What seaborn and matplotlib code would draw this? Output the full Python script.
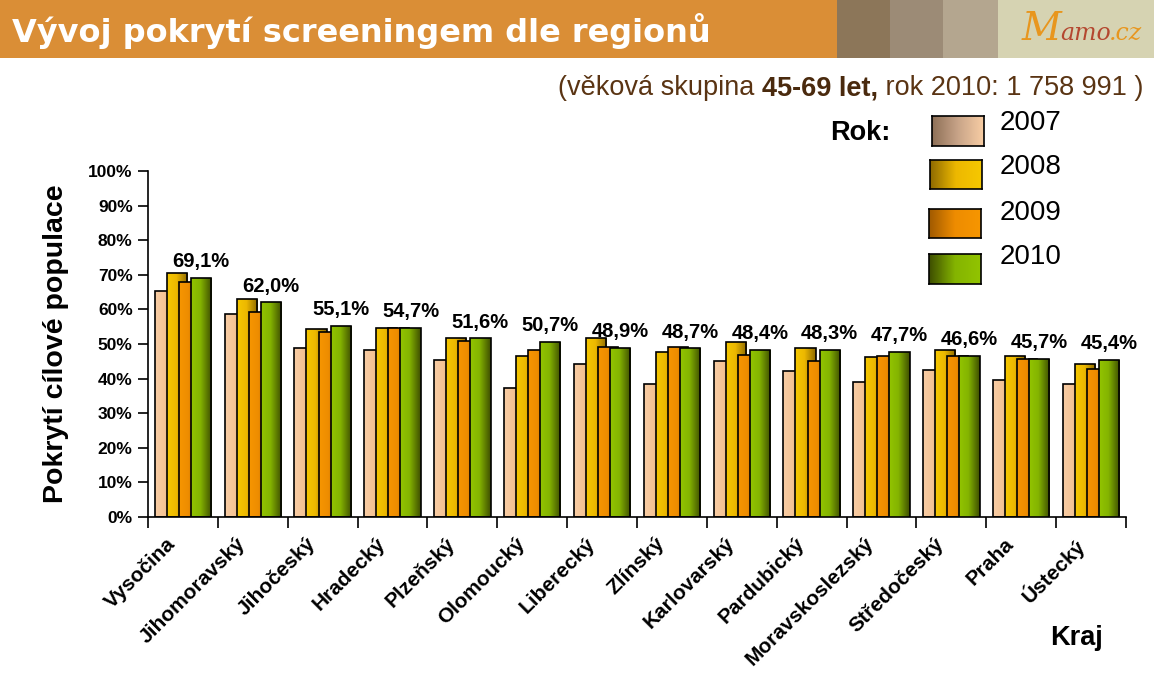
import numpy as np
import pandas as pd
import matplotlib
matplotlib.use("Agg")
import matplotlib.pyplot as plt
import matplotlib.colors as mcolors
import matplotlib.transforms as mtransforms
from matplotlib.patches import Rectangle
import seaborn as sns

regions = ["Vysočina", "Jihomoravský", "Jihočeský", "Hradecký", "Plzeňský", "Olomoucký",
           "Liberecký", "Zlínský", "Karlovarský", "Pardubický", "Moravskoslezský",
           "Středočeský", "Praha", "Ústecký"]
years = ["2007", "2008", "2009", "2010"]
v2007 = [65.4, 58.8, 48.9, 48.3, 45.4, 37.3, 44.2, 38.3, 45.2, 42.3, 39.1, 42.6, 39.7, 38.5]
v2008 = [70.4, 63.1, 54.4, 54.7, 51.8, 46.6, 51.8, 47.8, 50.7, 48.7, 46.1, 48.4, 46.6, 44.3]
v2009 = [67.8, 59.3, 53.5, 54.7, 50.9, 48.3, 49.2, 49.0, 46.9, 45.2, 46.6, 46.6, 45.8, 42.9]
v2010 = [69.1, 62.0, 55.1, 54.7, 51.6, 50.7, 48.9, 48.7, 48.4, 48.3, 47.7, 46.6, 45.7, 45.4]
labels2010 = ["69,1%", "62,0%", "55,1%", "54,7%", "51,6%", "50,7%", "48,9%", "48,7%",
              "48,4%", "48,3%", "47,7%", "46,6%", "45,7%", "45,4%"]
title = "Vývoj pokrytí screeningem dle regionů"
subtitle_parts = ["(věková skupina ", "45-69 let,", " rok 2010: 1 758 991 )"]
ylabel = "Pokrytí cílové populace"
xlabel = "Kraj"
legend_title = "Rok:"

grad = {
    "2007": ["#F8CDA4", "#F5C496", "#B89070"],
    "2008": ["#F6C800", "#EDB800", "#8E6A00"],
    "2009": ["#F79600", "#EE8C00", "#A05A00"],
    "2010": ["#92C400", "#84B400", "#3E4E00"],
}

df = pd.DataFrame({
    "Kraj": regions * 4,
    "Rok": sum([[y] * len(regions) for y in years], []),
    "value": [v / 100 for v in v2007 + v2008 + v2009 + v2010],
})

sns.set_style("white")
plt.rcParams["font.family"] = ["Liberation Sans", "DejaVu Sans"]
for k in ["text.color", "axes.labelcolor", "xtick.color", "ytick.color", "axes.edgecolor"]:
    plt.rcParams[k] = "black"

fig = plt.figure(figsize=(11.54, 6.75), dpi=100)
ax = fig.add_axes([148 / 1154, 1 - 517 / 675, (1126 - 148) / 1154, (517 - 171) / 675])

palette = {y: grad[y][1] for y in years}
sns.barplot(data=df, x="Kraj", y="value", hue="Rok", hue_order=years, order=regions,
            palette=palette, width=0.69, dodge=True, ax=ax, legend=False,
            edgecolor="black", linewidth=1.2, saturation=1)

# widen bars so they overlap as in the reference
newW = 0.29
for p in ax.patches:
    c = p.get_x() + p.get_width() / 2
    p.set_x(c - newW / 2)
    p.set_width(newW)

# gradient fill per bar
bars = list(ax.patches)
per = len(regions)
for i, p in enumerate(bars):
    yr = years[i // per]
    cmap = mcolors.LinearSegmentedColormap.from_list(
        "g", [(0, grad[yr][0]), (0.45, grad[yr][1]), (1, grad[yr][2])])
    x0, w, h = p.get_x(), p.get_width(), p.get_height()
    im = ax.imshow(np.linspace(0, 1, 64).reshape(1, -1), cmap=cmap, aspect="auto",
                   extent=(x0, x0 + w, 0, h), interpolation="bilinear")
    im.set_clip_path(p)
    p.set_facecolor("none")
    p.set_zorder(2 + 0.01 * i)
    im.set_zorder(2 + 0.01 * i - 0.001)

ax.set_xlim(-0.5, len(regions) - 0.5)
ax.set_ylim(0, 1.0)

# value labels above 2010 bars
offs = 0.69 / 4 * 1.5
for i, (v, t) in enumerate(zip(v2010, labels2010)):
    ax.annotate(t, (i + offs, v / 100), xytext=(0, 5), textcoords="offset points",
                ha="center", va="bottom", fontsize=14.5, fontweight="bold", color="black")

# axes styling
for s in ["top", "right"]:
    ax.spines[s].set_visible(False)
for s in ["left", "bottom"]:
    ax.spines[s].set_color("black")
    ax.spines[s].set_linewidth(1.2)
ax.set_yticks(np.linspace(0, 1, 11))
ax.set_yticklabels([f"{int(round(t * 100))}%" for t in np.linspace(0, 1, 11)],
                   fontsize=12.5, fontweight="bold")
ax.tick_params(axis="y", direction="out", length=7, width=1.2, color="black", pad=4, left=True)

# category labels (rotated), placed at the category positions with a small offset
ax.set_xticks(range(len(regions)))
ax.set_xticklabels([""] * len(regions))
ax.tick_params(axis="x", which="major", length=0)
lab_tr = ax.get_xaxis_transform() + mtransforms.ScaledTranslation(-17 / 100, -17 / 100, fig.dpi_scale_trans)
for i, r in enumerate(regions):
    ax.text(i, 0, r, transform=lab_tr, rotation=45, ha="right", va="top",
            rotation_mode="anchor", fontsize=15, fontweight="bold", clip_on=False)
ax.set_xticks(np.arange(-0.5, len(regions) + 0.5, 1), minor=True)
ax.tick_params(axis="x", which="minor", direction="out", length=8, width=1.2, color="black", bottom=True)
ax.set_xlabel("")
ax.set_ylabel(ylabel, fontsize=20.5, fontweight="bold", labelpad=14)
ax.grid(False)

# header band
hdr = [(0, 837, "#DA8E36"), (837, 890, "#8C7659"), (890, 943, "#9C8B76"),
       (943, 998, "#B4A68F"), (998, 1154, "#D6D3B2")]
for x0, x1, col in hdr:
    fig.patches.append(Rectangle((x0 / 1154, 1 - 58 / 675), (x1 - x0) / 1154, 58 / 675,
                                 transform=fig.transFigure, facecolor=col, edgecolor="none"))
fig.text(12 / 1154, 1 - 31 / 675, title, color="white", fontsize=23, fontweight="bold",
         family="DejaVu Sans", va="center", ha="left")

renderer = fig.canvas.get_renderer()
# logo
x = 1022 / 1154
for txt, col, fs in [("M", "#E8961E", 28), ("amo", "#B4472F", 17), (".cz", "#E8961E", 17)]:
    t = fig.text(x, 1 - 40 / 675, txt, color=col, fontsize=fs, family="DejaVu Serif",
                 fontstyle="italic", va="baseline", ha="left")
    x += t.get_window_extent(renderer=renderer).width / fig.bbox.width - 2 / 1154

# subtitle
x = 558 / 1154
for txt, wt in zip(subtitle_parts, ["normal", "bold", "normal"]):
    t = fig.text(x, 1 - 88 / 675, txt, fontsize=19.5, fontweight=wt,
                 color="#5A3413" if wt == "normal" else "#4A2A0E", va="center", ha="left")
    x += t.get_window_extent(renderer=renderer).width / fig.bbox.width

# legend
fig.text(830 / 1154, 1 - 133 / 675, legend_title, fontsize=19.5, fontweight="bold", va="center", ha="left")
sw = [(932, 116, 146, 123), (930, 160, 189, 167), (929, 209, 238, 213), (929, 254, 284, 257)]
for yr, (lx, yt, yb, ty) in zip(years, sw):
    lax = fig.add_axes([lx / 1154, 1 - yb / 675, 52 / 1154, (yb - yt) / 675])
    c = grad[yr]
    if yr == "2007":
        cm = mcolors.LinearSegmentedColormap.from_list("l", ["#8E7058", "#C8A488", "#F8CDA4"])
    else:
        cm = mcolors.LinearSegmentedColormap.from_list("l", [c[2], c[1], c[0]])
    lax.imshow(np.linspace(0, 1, 64).reshape(1, -1), cmap=cm, aspect="auto")
    lax.set_xticks([]); lax.set_yticks([])
    for s in lax.spines.values():
        s.set_color("black"); s.set_linewidth(1.2); s.set_visible(True)
    fig.text(1000 / 1154, 1 - ty / 675, yr, fontsize=20, va="center", ha="left")

fig.text(1050 / 1154, 1 - 638 / 675, xlabel, fontsize=19.5, fontweight="bold", va="center", ha="left")

fig.savefig("out.png", dpi=100)
